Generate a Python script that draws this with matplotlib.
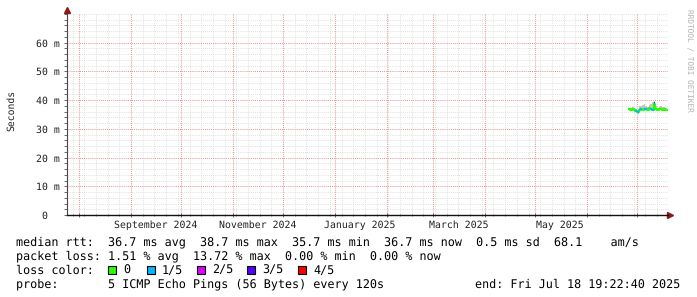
import matplotlib
matplotlib.use('Agg')
import matplotlib.pyplot as plt
import matplotlib.dates as mdates
from matplotlib.patches import Rectangle
from matplotlib.ticker import FixedLocator, MultipleLocator, NullFormatter
from datetime import datetime
import pandas as pd

plt.rcParams['text.hinting'] = 'no_hinting'

W, H = 697, 297
MONO = 'DejaVu Sans Mono'

# --- data ---
days = pd.date_range('2025-06-26', periods=23, freq='D')
end_time = datetime(2025, 7, 18, 19, 22, 40)
median_ms = [36.9, 36.6, 37.0, 36.5, 36.3, 35.7, 36.4, 36.8, 36.7, 37.0, 36.9, 36.6,
             37.1, 36.8, 36.7, 38.7, 36.9, 36.6, 36.8, 36.9, 36.7, 36.8, 36.7]
loss_idx = [0, 0, 0, 0, 1, 1, 1, 1, 0, 1, 1, 0, 0, 1, 1, 1, 0, 0, 0, 0, 0, 0, 0]
smoke_lo = [36.5, 36.2, 36.6, 36.1, 35.9, 35.3, 36.0, 36.4, 36.3, 36.6, 36.5, 36.2,
            36.7, 36.4, 36.3, 36.3, 36.5, 36.2, 36.4, 36.5, 36.3, 36.4, 36.3]
smoke_hi = [37.4, 37.2, 37.6, 37.3, 37.0, 36.6, 38.0, 37.8, 38.3, 38.6, 37.9, 37.5,
            38.4, 38.8, 39.2, 39.6, 37.8, 37.4, 37.6, 37.9, 37.5, 37.6, 37.3]
# darker inner smoke (only visible on the spike)
smoke_mid_lo = [36.9, 36.6, 37.0, 36.5, 36.3, 35.7, 36.4, 36.8, 36.7, 37.0, 36.9, 36.6,
                37.1, 36.8, 36.7, 37.2, 36.9, 36.6, 36.8, 36.9, 36.7, 36.8, 36.7]
smoke_mid_hi = [37.1, 36.8, 37.2, 36.7, 36.5, 35.9, 36.7, 37.0, 37.0, 37.3, 37.1, 36.8,
                37.4, 37.1, 37.0, 39.4, 37.1, 36.8, 37.0, 37.1, 36.9, 37.0, 36.9]
loss_labels = ['0', '1/5', '2/5', '3/5', '4/5']
loss_colors = ['#26ff00', '#00b8ff', '#dd00ff', '#5500ff', '#ff0000']
y_major = [0, 10, 20, 30, 40, 50, 60]
month_labels = ['September 2024', 'November 2024', 'January 2025', 'March 2025', 'May 2025']
month_label_dates = [datetime(2024, 9, 16), datetime(2024, 11, 16), datetime(2025, 1, 16),
                     datetime(2025, 3, 16), datetime(2025, 5, 16)]

legend_lines = [
    'median rtt:  36.7 ms avg  38.7 ms max  35.7 ms min  36.7 ms now  0.5 ms sd  68.1    am/s',
    'packet loss: 1.51 % avg  13.72 % max  0.00 % min  0.00 % now',
    'loss color:',
    'probe:       5 ICMP Echo Pings (56 Bytes) every 120s',
]
end_text = 'end: Fri Jul 18 19:22:40 2025'


def fx(px):
    return px / W


def fy(py):
    return 1 - py / H


fig = plt.figure(figsize=(W / 100, H / 100), dpi=100)
fig.patch.set_facecolor('white')
ax = fig.add_axes([fx(67), fy(215), (668 - 67) / W, (215 - 14) / H])

x_edges = list(days) + [end_time]


def ext(a):
    return list(a) + [a[-1]]


# smoke
ax.fill_between(x_edges, ext(smoke_lo), ext(smoke_hi), step='post', color='#c4c4c4', lw=0, zorder=3)
ax.fill_between(x_edges, ext(smoke_mid_lo), ext(smoke_mid_hi), step='post', color='#3a3a4a', lw=0, zorder=3)
ax.step(x_edges, ext(median_ms), where='post', color=loss_colors[0], lw=1.5, zorder=4)
for i in range(len(median_ms)):
    ax.plot([x_edges[i], x_edges[i + 1]], [median_ms[i], median_ms[i]],
            color=loss_colors[loss_idx[i]], lw=1.5, solid_capstyle='butt', zorder=5)

ax.set_xlim(datetime(2024, 7, 24, 15, 0), datetime(2025, 7, 19, 12, 0))
ax.set_ylim(0, 70)

ax.yaxis.set_major_locator(FixedLocator(y_major))
ax.yaxis.set_minor_locator(MultipleLocator(2))
ax.yaxis.set_major_formatter(plt.FuncFormatter(lambda v, p: '0  ' if v == 0 else f'{v:.0f} m'))
ax.xaxis.set_major_locator(mdates.MonthLocator())
ax.xaxis.set_minor_locator(mdates.WeekdayLocator(byweekday=mdates.SU))
ax.xaxis.set_major_formatter(NullFormatter())

ax.grid(which='minor', color='#d6d6d6', lw=0.6, linestyle=(0, (1, 1.5)))
ax.grid(which='major', color='#e46a6a', lw=0.6, linestyle=(0, (1, 1.5)))
ax.set_axisbelow(True)

for s in ['top', 'right']:
    ax.spines[s].set_visible(False)
ax.spines['left'].set_color('#444444')
ax.spines['bottom'].set_color('#111111')
ax.spines['left'].set_linewidth(0.8)
ax.spines['bottom'].set_linewidth(1.0)

ax.tick_params(axis='y', which='both', direction='out', length=2.5, width=0.6,
               color='#555555', labelsize=7.1, pad=3, labelcolor='#222222')
ax.tick_params(axis='x', which='major', direction='inout', length=3, width=0.6, color='#555555')
ax.tick_params(axis='x', which='minor', direction='inout', length=2, width=0.6, color='#777777')
for lab in ax.get_yticklabels():
    lab.set_family(MONO)

for d, t in zip(month_label_dates, month_labels):
    ax.text(d, -13 / 201, t, transform=ax.get_xaxis_transform(), ha='center', va='baseline',
            family=MONO, fontsize=7.1, color='#222222')

# arrows
ax.plot(1.004, 0, marker='>', color='#8b1a1a', ms=4, transform=ax.transAxes, clip_on=False)
ax.plot(0, 1.022, marker='^', color='#8b1a1a', ms=4, transform=ax.transAxes, clip_on=False)

fig.text(fx(11), fy(110), 'Seconds', rotation=90, ha='center', va='center',
         family=MONO, fontsize=7.0, color='#222222')
fig.text(fx(689), fy(60), 'RRDTOOL / TOBI OETIKER', rotation=270, ha='center', va='center',
         family=MONO, fontsize=5.6, color='#b4b4b4')

baselines = [245.5, 259.5, 273.5, 287.5]
for line, yb in zip(legend_lines, baselines):
    fig.text(fx(16), fy(yb), line, family=MONO, fontsize=8.45, va='baseline', color='black')
fig.text(fx(680), fy(baselines[3]), end_text, family=MONO, fontsize=8.45, va='baseline',
         ha='right', color='black')

box_x = [108, 147, 197, 247, 298]
for bx, lab, col in zip(box_x, loss_labels, loss_colors):
    fig.patches.append(Rectangle((fx(bx), fy(274)), 8 / W, 8 / H, transform=fig.transFigure,
                                 facecolor=col, edgecolor='black', lw=0.8))
    fig.text(fx(bx + 15), fy(baselines[2]), lab, family=MONO, fontsize=8.45, va='baseline')

fig.savefig('out.png', dpi=100)
